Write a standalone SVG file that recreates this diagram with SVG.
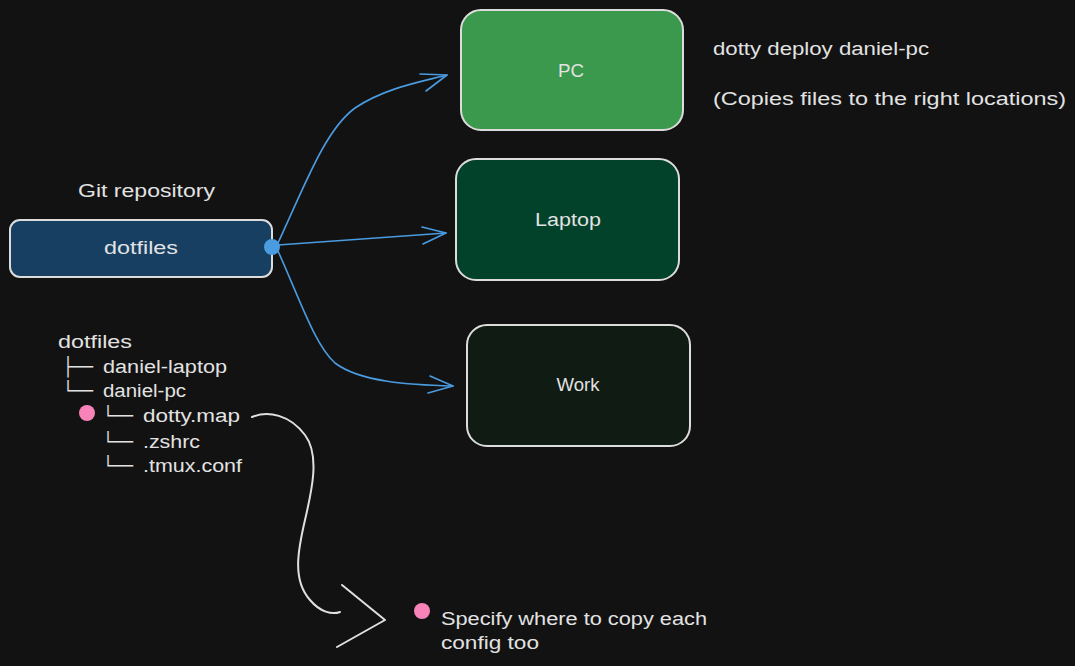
<svg xmlns="http://www.w3.org/2000/svg" width="1075" height="666" viewBox="0 0 1075 666">
<style>
  text { font-family: "Liberation Sans", "DejaVu Sans", sans-serif; font-size: 18px; fill: #e2e2e2; }
  .box { font-family: "DejaVu Sans Mono", "DejaVu Sans", monospace; fill: #e2e2e2; }
  .mid { text-anchor: middle; }
  .node { stroke: #dcdcdc; stroke-width: 2; }
  .blue { fill: none; stroke: #4a9be0; stroke-width: 1.6; stroke-linecap: round; stroke-linejoin: round; }
  .white { fill: none; stroke: #e0e0e0; stroke-width: 2; stroke-linecap: round; stroke-linejoin: round; }
</style>
<rect x="0" y="0" width="1075" height="666" fill="#121212"/>

<g id="git-label">
  <text x="78" y="197" textLength="137" lengthAdjust="spacingAndGlyphs">Git repository</text>
</g>

<g id="dotfiles">
  <rect class="node" x="10" y="220" width="262" height="57" rx="10" fill="#163f62"/>
  <text x="141" y="254" class="mid" textLength="74" lengthAdjust="spacingAndGlyphs">dotfiles</text>
</g>

<g id="pc">
  <rect class="node" x="461" y="10" width="222" height="120" rx="20" fill="#3a994d"/>
  <text x="571" y="77" class="mid" textLength="26" lengthAdjust="spacingAndGlyphs">PC</text>
</g>

<g id="laptop">
  <rect class="node" x="456" y="159" width="223" height="121" rx="20" fill="#02412a"/>
  <text x="568" y="226" class="mid" textLength="66" lengthAdjust="spacingAndGlyphs">Laptop</text>
</g>

<g id="work">
  <rect class="node" x="467" y="325" width="223" height="121" rx="20" fill="#0f1b13"/>
  <text x="578" y="391" class="mid" textLength="43" lengthAdjust="spacingAndGlyphs">Work</text>
</g>

<g id="deploy-note">
  <text x="713" y="55" textLength="216" lengthAdjust="spacingAndGlyphs">dotty deploy daniel-pc</text>
  <text x="713" y="105" textLength="353" lengthAdjust="spacingAndGlyphs">(Copies files to the right locations)</text>
</g>

<g id="tree">
  <text x="58" y="348" textLength="74" lengthAdjust="spacingAndGlyphs">dotfiles</text>
  <text y="373"><tspan class="box" x="63" textLength="30" lengthAdjust="spacingAndGlyphs">├──</tspan><tspan x="103" textLength="124" lengthAdjust="spacingAndGlyphs">daniel-laptop</tspan></text>
  <text y="397"><tspan class="box" x="63" textLength="30" lengthAdjust="spacingAndGlyphs">└──</tspan><tspan x="103" textLength="83" lengthAdjust="spacingAndGlyphs">daniel-pc</tspan></text>
  <text y="422"><tspan class="box" x="103" textLength="30" lengthAdjust="spacingAndGlyphs">└──</tspan><tspan x="143" textLength="97" lengthAdjust="spacingAndGlyphs">dotty.map</tspan></text>
  <text y="448"><tspan class="box" x="103" textLength="30" lengthAdjust="spacingAndGlyphs">└──</tspan><tspan x="143" textLength="57" lengthAdjust="spacingAndGlyphs">.zshrc</tspan></text>
  <text y="472"><tspan class="box" x="103" textLength="30" lengthAdjust="spacingAndGlyphs">└──</tspan><tspan x="143" textLength="99" lengthAdjust="spacingAndGlyphs">.tmux.conf</tspan></text>
  <circle cx="87" cy="413" r="8" fill="#f783b9"/>
</g>

<g id="note">
  <circle cx="422" cy="611" r="8" fill="#f783b9"/>
  <text x="441" y="625" textLength="266" lengthAdjust="spacingAndGlyphs">Specify where to copy each</text>
  <text x="441" y="649" textLength="98" lengthAdjust="spacingAndGlyphs">config too</text>
</g>

<g id="connectors">
  <path class="blue" d="M 278 243 C 305 185, 325 130, 355 108 C 385 88, 420 82, 447 75"/>
  <path class="blue" d="M 420 74 L 447 75 L 426 91"/>
  <path class="blue" d="M 278 245 L 446 233"/>
  <path class="blue" d="M 422 227 L 446 233 L 423 244"/>
  <path class="blue" d="M 278 251 C 300 300, 315 345, 335 363 C 360 382, 410 385, 453 386"/>
  <path class="blue" d="M 430 376 L 453 386 L 428 393"/>
  <circle cx="272" cy="247" r="8" fill="#4a9be0"/>
  <path class="white" d="M 252 417 C 268 410, 290 415, 305 435 C 320 455, 312 490, 305 520 C 298 550, 292 580, 310 600 C 320 612, 332 615, 340 612"/>
  <path class="white" d="M 342 585 L 385 620 L 337 647"/>
</g>
</svg>
